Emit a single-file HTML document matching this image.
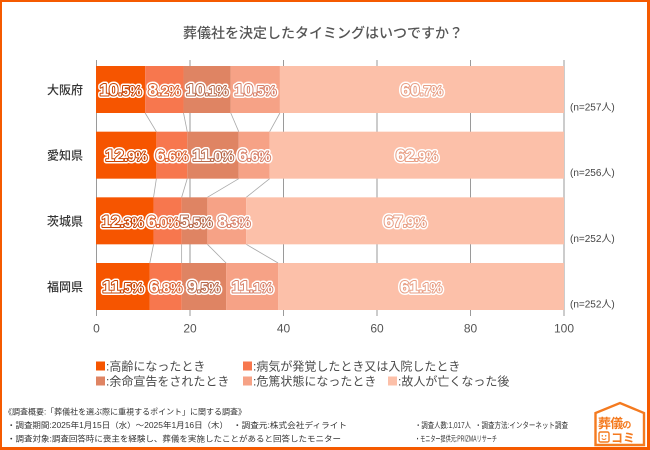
<!DOCTYPE html>
<html><head><meta charset="utf-8">
<style>
html,body{margin:0;padding:0;background:#fff;}
svg{display:block;}
.jp{font-family:"Liberation Sans","Noto Sans CJK JP",sans-serif;}
</style></head>
<body>
<svg width="650" height="450" viewBox="0 0 650 450" xmlns="http://www.w3.org/2000/svg" class="jp">
<rect x="0" y="0" width="650" height="450" fill="#fff"/>
<!-- outer frame -->
<rect x="0" y="0" width="650" height="2" fill="#f55a00"/>
<rect x="0" y="0" width="2" height="450" fill="#f55a00"/>
<rect x="647" y="0" width="3" height="450" fill="#f55a00"/>
<rect x="0" y="447" width="650" height="3" fill="#f55a00"/>

<!-- title -->
<text x="323" y="38" text-anchor="middle" font-size="14" font-weight="500" fill="#555" font-family="Noto Sans CJK JP, sans-serif">葬儀社を決定したタイミングはいつですか？</text>

<!-- gridlines -->
<g stroke="#9a9a9a" stroke-width="1">
<line x1="96.5" y1="60" x2="96.5" y2="316"/>
<line x1="190" y1="60" x2="190" y2="316"/>
<line x1="283.5" y1="60" x2="283.5" y2="316"/>
<line x1="377" y1="60" x2="377" y2="316"/>
<line x1="470.5" y1="60" x2="470.5" y2="316"/>
<line x1="564" y1="60" x2="564" y2="316"/>
</g>

<!-- connectors -->
<g stroke="#a8a8a8" stroke-width="0.8">
<line x1="145.14" y1="113" x2="156.37" y2="131.67"/>
<line x1="183.52" y1="113" x2="187.26" y2="131.67"/>
<line x1="230.78" y1="113" x2="238.74" y2="131.67"/>
<line x1="279.92" y1="113" x2="269.63" y2="131.67"/>
<line x1="156.37" y1="178.67" x2="153.56" y2="197.33"/>
<line x1="187.26" y1="178.67" x2="181.64" y2="197.33"/>
<line x1="238.74" y1="178.67" x2="207.38" y2="197.33"/>
<line x1="269.63" y1="178.67" x2="246.23" y2="197.33"/>
<line x1="153.56" y1="244.33" x2="149.82" y2="263"/>
<line x1="181.64" y1="244.33" x2="181.64" y2="263"/>
<line x1="207.38" y1="244.33" x2="226.10" y2="263"/>
<line x1="246.23" y1="244.33" x2="278.05" y2="263"/>
</g>

<!-- bars -->
<g>
<rect x="96" y="66" width="49.14" height="47" fill="#f65500"/>
<rect x="145.14" y="66" width="38.38" height="47" fill="#f7774e"/>
<rect x="183.52" y="66" width="47.26" height="47" fill="#df8463"/>
<rect x="230.78" y="66" width="49.14" height="47" fill="#f6a286"/>
<rect x="279.92" y="66" width="284.08" height="47" fill="#fcc0a9"/>

<rect x="96" y="131.67" width="60.37" height="47" fill="#f65500"/>
<rect x="156.37" y="131.67" width="30.89" height="47" fill="#f7774e"/>
<rect x="187.26" y="131.67" width="51.48" height="47" fill="#df8463"/>
<rect x="238.74" y="131.67" width="30.89" height="47" fill="#f6a286"/>
<rect x="269.63" y="131.67" width="294.37" height="47" fill="#fcc0a9"/>

<rect x="96" y="197.33" width="57.56" height="47" fill="#f65500"/>
<rect x="153.56" y="197.33" width="28.08" height="47" fill="#f7774e"/>
<rect x="181.64" y="197.33" width="25.74" height="47" fill="#df8463"/>
<rect x="207.38" y="197.33" width="38.85" height="47" fill="#f6a286"/>
<rect x="246.23" y="197.33" width="317.77" height="47" fill="#fcc0a9"/>

<rect x="96" y="263" width="53.82" height="47" fill="#f65500"/>
<rect x="149.82" y="263" width="31.82" height="47" fill="#f7774e"/>
<rect x="181.64" y="263" width="44.46" height="47" fill="#df8463"/>
<rect x="226.10" y="263" width="51.95" height="47" fill="#f6a286"/>
<rect x="278.05" y="263" width="285.95" height="47" fill="#fcc0a9"/>
</g>

<!-- value labels: halo layer -->
<g font-family="Liberation Sans, sans-serif" font-weight="bold" text-anchor="middle" fill="#fff" stroke="#fff" stroke-width="5" stroke-linejoin="round">
<text x="120.57" y="95.5"><tspan font-size="17">10</tspan><tspan font-size="13.5">.5%</tspan></text>
<text x="164.33" y="95.5"><tspan font-size="17">8</tspan><tspan font-size="13.5">.2%</tspan></text>
<text x="207.15" y="95.5"><tspan font-size="17">10</tspan><tspan font-size="13.5">.1%</tspan></text>
<text x="255.35" y="95.5"><tspan font-size="17">10</tspan><tspan font-size="13.5">.5%</tspan></text>
<text x="421.96" y="95.5"><tspan font-size="17">60</tspan><tspan font-size="13.5">.7%</tspan></text>

<text x="126.19" y="161.2"><tspan font-size="17">12</tspan><tspan font-size="13.5">.9%</tspan></text>
<text x="171.82" y="161.2"><tspan font-size="17">6</tspan><tspan font-size="13.5">.6%</tspan></text>
<text x="213.0" y="161.2"><tspan font-size="17">11</tspan><tspan font-size="13.5">.0%</tspan></text>
<text x="254.19" y="161.2"><tspan font-size="17">6</tspan><tspan font-size="13.5">.6%</tspan></text>
<text x="416.82" y="161.2"><tspan font-size="17">62</tspan><tspan font-size="13.5">.9%</tspan></text>

<text x="122.5" y="226.8"><tspan font-size="17">12</tspan><tspan font-size="13.5">.3%</tspan></text>
<text x="163" y="226.8"><tspan font-size="17">6</tspan><tspan font-size="13.5">.0%</tspan></text>
<text x="196" y="226.8"><tspan font-size="17">5</tspan><tspan font-size="13.5">.5%</tspan></text>
<text x="234" y="226.8"><tspan font-size="17">8</tspan><tspan font-size="13.5">.3%</tspan></text>
<text x="405.12" y="226.8"><tspan font-size="17">67</tspan><tspan font-size="13.5">.9%</tspan></text>

<text x="122.91" y="292.5"><tspan font-size="17">11</tspan><tspan font-size="13.5">.5%</tspan></text>
<text x="165.73" y="292.5"><tspan font-size="17">6</tspan><tspan font-size="13.5">.8%</tspan></text>
<text x="203.87" y="292.5"><tspan font-size="17">9</tspan><tspan font-size="13.5">.5%</tspan></text>
<text x="252.08" y="292.5"><tspan font-size="17">11</tspan><tspan font-size="13.5">.1%</tspan></text>
<text x="421.03" y="292.5"><tspan font-size="17">61</tspan><tspan font-size="13.5">.1%</tspan></text>
</g>
<!-- value labels: outline + fill layer -->
<g font-family="Liberation Sans, sans-serif" font-weight="bold" text-anchor="middle" fill="#fff" stroke-width="2" stroke-linejoin="round" paint-order="stroke">
<text x="120.57" y="95.5" stroke="#c94300"><tspan font-size="17">10</tspan><tspan font-size="13.5">.5%</tspan></text>
<text x="164.33" y="95.5" stroke="#d9602f"><tspan font-size="17">8</tspan><tspan font-size="13.5">.2%</tspan></text>
<text x="207.15" y="95.5" stroke="#b86a4c"><tspan font-size="17">10</tspan><tspan font-size="13.5">.1%</tspan></text>
<text x="255.35" y="95.5" stroke="#d8826a"><tspan font-size="17">10</tspan><tspan font-size="13.5">.5%</tspan></text>
<text x="421.96" y="95.5" stroke="#e89f85"><tspan font-size="17">60</tspan><tspan font-size="13.5">.7%</tspan></text>

<text x="126.19" y="161.2" stroke="#c94300"><tspan font-size="17">12</tspan><tspan font-size="13.5">.9%</tspan></text>
<text x="171.82" y="161.2" stroke="#d9602f"><tspan font-size="17">6</tspan><tspan font-size="13.5">.6%</tspan></text>
<text x="213.0" y="161.2" stroke="#b86a4c"><tspan font-size="17">11</tspan><tspan font-size="13.5">.0%</tspan></text>
<text x="254.19" y="161.2" stroke="#d8826a"><tspan font-size="17">6</tspan><tspan font-size="13.5">.6%</tspan></text>
<text x="416.82" y="161.2" stroke="#e89f85"><tspan font-size="17">62</tspan><tspan font-size="13.5">.9%</tspan></text>

<text x="122.5" y="226.8" stroke="#c94300"><tspan font-size="17">12</tspan><tspan font-size="13.5">.3%</tspan></text>
<text x="163" y="226.8" stroke="#d9602f"><tspan font-size="17">6</tspan><tspan font-size="13.5">.0%</tspan></text>
<text x="196" y="226.8" stroke="#b86a4c"><tspan font-size="17">5</tspan><tspan font-size="13.5">.5%</tspan></text>
<text x="234" y="226.8" stroke="#d8826a"><tspan font-size="17">8</tspan><tspan font-size="13.5">.3%</tspan></text>
<text x="405.12" y="226.8" stroke="#e89f85"><tspan font-size="17">67</tspan><tspan font-size="13.5">.9%</tspan></text>

<text x="122.91" y="292.5" stroke="#c94300"><tspan font-size="17">11</tspan><tspan font-size="13.5">.5%</tspan></text>
<text x="165.73" y="292.5" stroke="#d9602f"><tspan font-size="17">6</tspan><tspan font-size="13.5">.8%</tspan></text>
<text x="203.87" y="292.5" stroke="#b86a4c"><tspan font-size="17">9</tspan><tspan font-size="13.5">.5%</tspan></text>
<text x="252.08" y="292.5" stroke="#d8826a"><tspan font-size="17">11</tspan><tspan font-size="13.5">.1%</tspan></text>
<text x="421.03" y="292.5" stroke="#e89f85"><tspan font-size="17">61</tspan><tspan font-size="13.5">.1%</tspan></text>
</g>

<!-- row labels -->
<g font-size="12" font-weight="500" fill="#333" text-anchor="end" font-family="Noto Sans CJK JP, sans-serif">
<text x="83" y="94">大阪府</text>
<text x="83" y="159.7">愛知県</text>
<text x="83" y="225.3">茨城県</text>
<text x="83" y="291">福岡県</text>
</g>

<!-- n labels -->
<g font-size="10" fill="#444">
<text x="570" y="110.5">(n=257人)</text>
<text x="570" y="176.2">(n=256人)</text>
<text x="570" y="241.8">(n=252人)</text>
<text x="570" y="307.5">(n=252人)</text>
</g>

<!-- axis labels -->
<g font-size="12" fill="#555" text-anchor="middle" font-family="Liberation Sans, sans-serif">
<text x="96.5" y="332.5">0</text>
<text x="190" y="332.5">20</text>
<text x="283.5" y="332.5">40</text>
<text x="377" y="332.5">60</text>
<text x="470.5" y="332.5">80</text>
<text x="564" y="332.5">100</text>
</g>

<!-- legend -->
<g font-size="12" fill="#4a4a4a">
<rect x="96" y="361.5" width="9" height="9" fill="#f65500"/>
<text x="106" y="370.5">:高齢になったとき</text>
<rect x="243" y="361.5" width="9" height="9" fill="#f7774e"/>
<text x="253" y="370.5">:病気が発覚したとき又は入院したとき</text>
<rect x="96" y="376.5" width="9" height="9" fill="#df8463"/>
<text x="106" y="385.5">:余命宣告をされたとき</text>
<rect x="243" y="376.5" width="9" height="9" fill="#f6a286"/>
<text x="253" y="385.5">:危篤状態になったとき</text>
<rect x="388" y="376.5" width="9" height="9" fill="#fcc0a9"/>
<text x="398" y="385.5">:故人が亡くなった後</text>
</g>

<!-- footer -->
<g font-size="8" fill="#333" lengthAdjust="spacingAndGlyphs">
<text x="4" y="414.5" textLength="242" lengthAdjust="spacingAndGlyphs">《調査概要:「葬儀社を選ぶ際に重視するポイント」に関する調査》</text>
<text x="7" y="428" textLength="221" lengthAdjust="spacingAndGlyphs">・調査期間:2025年1月15日（水）～2025年1月16日（木）</text>
<text x="233" y="428" textLength="114" lengthAdjust="spacingAndGlyphs">・調査元:株式会社ディライト</text>
<text x="415" y="428" textLength="56" lengthAdjust="spacingAndGlyphs">・調査人数:1,017人</text>
<text x="475" y="428" textLength="93" lengthAdjust="spacingAndGlyphs">・調査方法:インターネット調査</text>
<text x="7" y="441.5" textLength="334" lengthAdjust="spacingAndGlyphs">・調査対象:調査回答時に喪主を経験し、葬儀を実施したことがあると回答したモニター</text>
<text x="415" y="441.5" textLength="82" lengthAdjust="spacingAndGlyphs">・モニター提供元:PRIZMAリサーチ</text>
</g>

<!-- logo -->
<g>
<path d="M595.5,445 L595.5,413 L620,403 L644,413 L644,445 Z" fill="#fff" stroke="#f47a1f" stroke-width="2.4" stroke-linejoin="miter"/>
<text x="598" y="428" font-size="13" font-weight="bold" fill="#f47a1f" font-family="Noto Sans CJK JP, sans-serif" letter-spacing="-0.8">葬儀<tspan font-size="9">の</tspan></text>
<rect x="599" y="432" width="10" height="10" rx="1.5" fill="none" stroke="#f47a1f" stroke-width="1.4"/>
<circle cx="602.3" cy="435.8" r="0.8" fill="#f47a1f"/>
<circle cx="605.7" cy="435.8" r="0.8" fill="#f47a1f"/>
<path d="M601.8,438.5 Q604,440.5 606.2,438.5" fill="none" stroke="#f47a1f" stroke-width="0.9"/>
<text x="611" y="442" font-size="12" font-weight="bold" fill="#f47a1f" font-family="Noto Sans CJK JP, sans-serif">コミ</text>
</g>
</svg>
</body></html>
